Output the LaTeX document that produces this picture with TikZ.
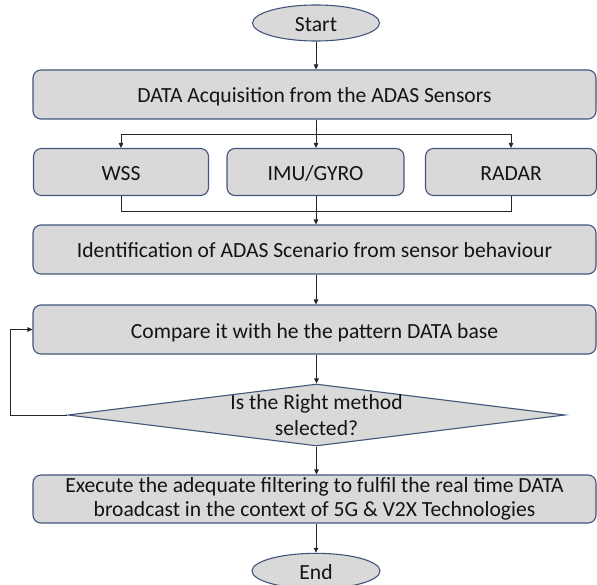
\documentclass[tikz,border=0pt]{standalone}
\usepackage{fontspec}
\setmainfont{Carlito}
\usetikzlibrary{shapes.geometric,arrows.meta}
\definecolor{boxfill}{HTML}{D9D9D9}
\definecolor{boxline}{HTML}{42557A}
\definecolor{linecol}{HTML}{262626}
\definecolor{txtcol}{HTML}{141414}
\begin{document}
\begin{tikzpicture}[x=1pt,y=-1pt,
  every node/.style={font=\fontsize{21.6}{24.5}\selectfont, text=txtcol},
  procbox/.style={draw=boxline, line width=1.1pt, fill=boxfill, rounded corners=8pt, inner sep=0pt, align=center},
  oneline/.style={text height=21pt, text depth=4pt},
  termin/.style={ellipse, draw=boxline, line width=1.1pt, fill=boxfill, inner sep=0pt, oneline},
  decis/.style={diamond, draw=boxline, line width=1.1pt, fill=boxfill, inner sep=0pt},
  conn/.style={draw=linecol, line width=0.9pt, -{Triangle[length=5pt,width=4.5pt]}},
  plain/.style={draw=linecol, line width=0.9pt}]
\useasboundingbox (0,0) rectangle (597,585);
\node[termin, minimum width=127pt, minimum height=36pt] (start) at (316,23) {Start};
\node[procbox, oneline, minimum width=563pt, minimum height=49pt] (acq) at (314.5,94.5) {DATA Acquisition from the ADAS Sensors};
\node[procbox, oneline, minimum width=175pt, minimum height=47pt] (wss) at (121,172) {WSS};
\node[procbox, oneline, minimum width=177pt, minimum height=47pt] (imu) at (315.5,172) {IMU/GYRO};
\node[procbox, oneline, minimum width=171pt, minimum height=47pt] (radar) at (511,172) {RADAR};
\node[procbox, oneline, minimum width=563pt, minimum height=49pt] (ident) at (314.5,249.5) {Identification of ADAS Scenario from sensor behaviour};
\node[procbox, oneline, minimum width=563pt, minimum height=49pt] (comp) at (314.5,329.5) {Compare it with he the pattern DATA base};
\node[decis, minimum width=497pt, minimum height=62pt] (dec) at (316.5,415) {};
\node[align=center, font=\fontsize{21.6}{26.5}\selectfont] (dectext) at (316.5,415) {Is the Right method\\selected?};
\node[procbox, minimum width=563pt, minimum height=48pt] (exec) at (314.5,499) {Execute the adequate filtering to fulfil the real time DATA\\broadcast in the context of 5G \& V2X Technologies};
\node[termin, minimum width=128pt, minimum height=33pt] (end) at (316,571) {End};
\coordinate (br) at (316,134);
\coordinate (mg) at (316,211);
\coordinate (fb) at (10,415);
\draw[conn] (start) -- (start.south |- acq.north);
\draw[plain] (br -| wss.north) -- (br -| radar.north);
\draw[conn] (acq.south -| br) -- (br |- imu.north);
\draw[conn] (br -| wss.north) -- (wss.north);
\draw[conn] (br -| radar.north) -- (radar.north);
\draw[plain] (wss.south) -- (mg -| wss.south) -- (mg -| radar.south) -- (radar.south);
\draw[conn] (imu.south -| mg) -- (mg |- ident.north);
\draw[conn] (ident.south -| mg) -- (mg |- comp.north);
\draw[conn] (comp.south -| dec.north) -- (dec.north);
\draw[conn] (dec.west) -- (fb) |- (comp.west);
\draw[conn] (dec.south) -- (dec.south |- exec.north);
\draw[conn] (exec.south -| end.north) -- (end.north);
\end{tikzpicture}
\end{document}
